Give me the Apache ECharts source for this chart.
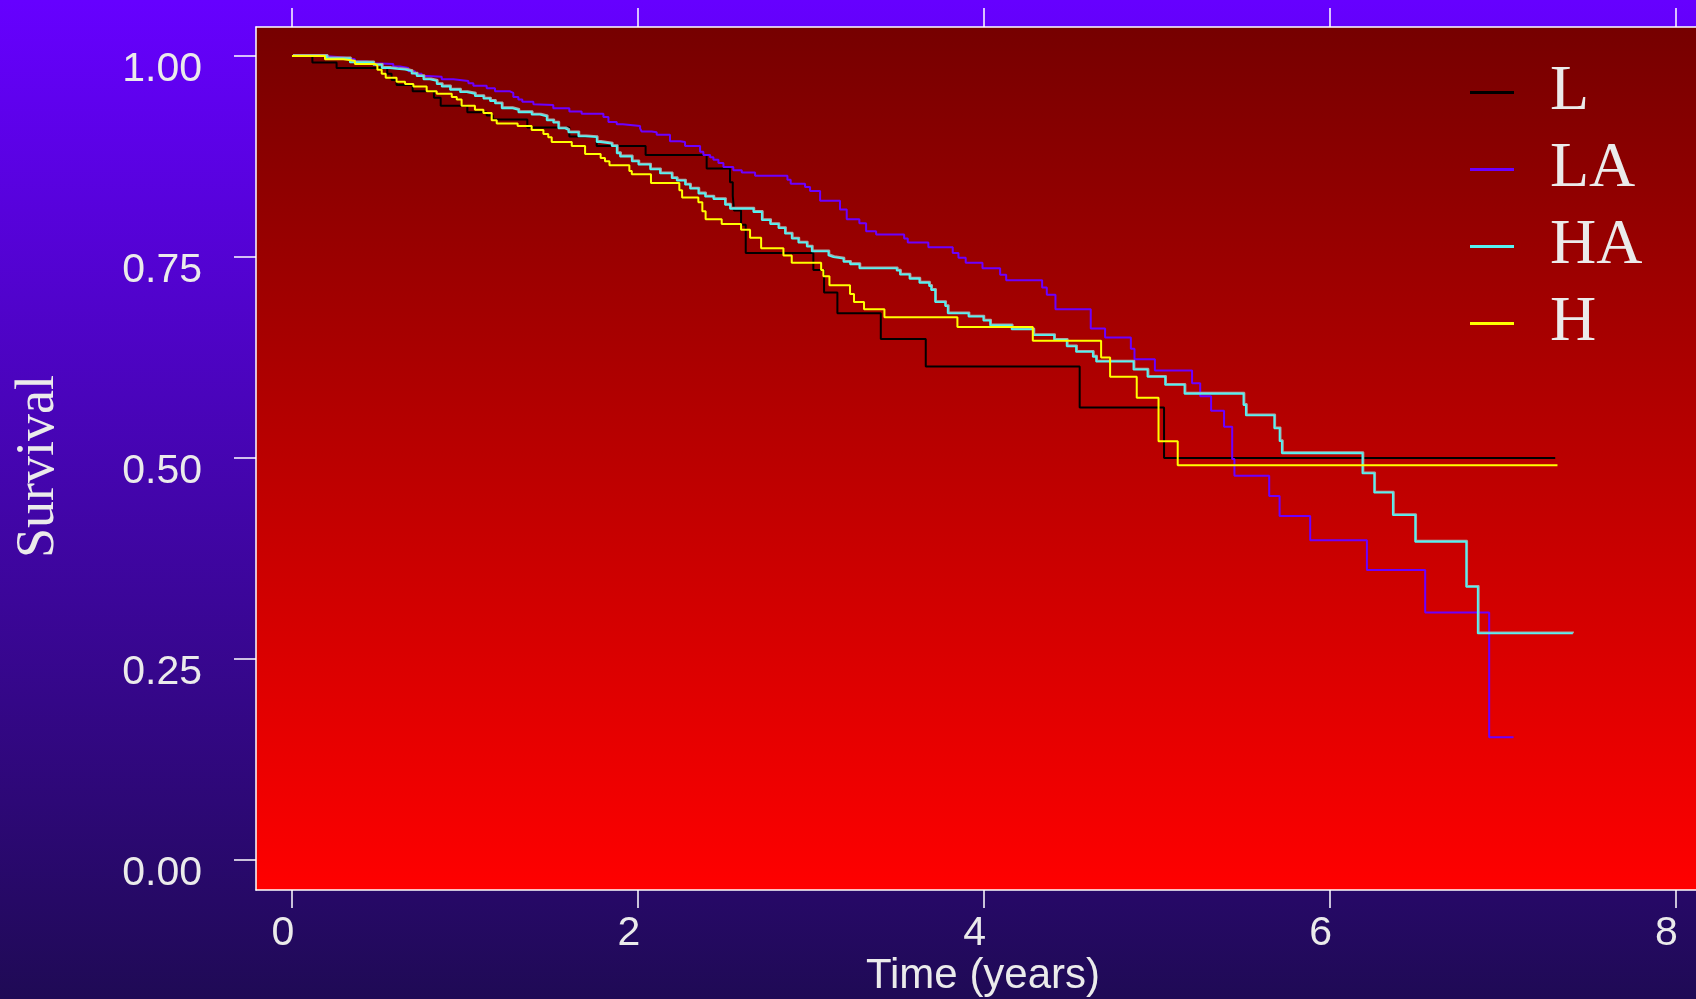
<!DOCTYPE html>
<html>
<head>
<meta charset="utf-8">
<title>Survival</title>
<script src="https://cdn.jsdelivr.net/npm/echarts@6/dist/echarts.min.js"></script>
<style>
  html, body { margin: 0; padding: 0; }
  #chart { width: 1696px; height: 999px; }
</style>
</head>
<body>
<div id="chart"></div>
<script>
// Kaplan-Meier steps (time in years, survival)
const lTime = [0, 0.118, 0.258, 0.551, 0.576, 0.605, 0.698, 0.821, 0.860, 1.014, 1.126, 1.161, 1.361, 1.604, 1.762, 2.045, 2.398, 2.533, 2.549, 2.556, 2.597, 2.624, 3.015, 3.077, 3.154, 3.405, 3.665, 4.555, 5.043, 7.305];
const lSurv = [1, 0.992, 0.985, 0.978, 0.970, 0.964, 0.956, 0.948, 0.938, 0.930, 0.926, 0.921, 0.911, 0.900, 0.888, 0.877, 0.860, 0.843, 0.826, 0.808, 0.790, 0.755, 0.734, 0.706, 0.680, 0.648, 0.614, 0.563, 0.500, 0.500];

const laTime = [0, 0.191, 0.297, 0.364, 0.432, 0.480, 0.586, 0.625, 0.673, 0.711, 0.750, 0.779, 0.866, 0.933, 1.020, 1.049, 1.126, 1.174, 1.261, 1.280, 1.309, 1.332, 1.396, 1.405, 1.511, 1.604, 1.675, 1.801, 1.830, 1.878, 1.913, 2.013, 2.022, 2.080, 2.109, 2.186, 2.244, 2.273, 2.360, 2.379, 2.418, 2.437, 2.466, 2.495, 2.552, 2.601, 2.678, 2.865, 2.884, 2.967, 2.996, 3.054, 3.169, 3.208, 3.281, 3.320, 3.378, 3.540, 3.561, 3.680, 3.821, 3.854, 3.896, 3.993, 4.095, 4.130, 4.338, 4.365, 4.415, 4.619, 4.702, 4.851, 4.872, 4.990, 5.205, 5.252, 5.315, 5.390, 5.437, 5.450, 5.651, 5.711, 5.888, 6.216, 6.553, 6.923, 7.064];
const laSurv = [1, 0.998, 0.996, 0.993, 0.991, 0.990, 0.987, 0.985, 0.981, 0.978, 0.975, 0.974, 0.971, 0.969, 0.966, 0.963, 0.960, 0.956, 0.954, 0.949, 0.946, 0.943, 0.940, 0.939, 0.935, 0.931, 0.928, 0.924, 0.918, 0.915, 0.913, 0.910, 0.906, 0.905, 0.902, 0.894, 0.893, 0.888, 0.881, 0.877, 0.874, 0.871, 0.867, 0.862, 0.858, 0.855, 0.851, 0.846, 0.841, 0.837, 0.832, 0.820, 0.809, 0.797, 0.792, 0.782, 0.778, 0.773, 0.768, 0.762, 0.755, 0.749, 0.743, 0.736, 0.728, 0.721, 0.712, 0.703, 0.685, 0.661, 0.650, 0.636, 0.623, 0.609, 0.593, 0.577, 0.559, 0.539, 0.499, 0.478, 0.453, 0.428, 0.398, 0.361, 0.308, 0.153, 0.153];

const haTime = [0, 0.201, 0.335, 0.470, 0.519, 0.567, 0.605, 0.654, 0.692, 0.721, 0.760, 0.798, 0.837, 0.866, 0.914, 0.972, 1.010, 1.058, 1.107, 1.145, 1.174, 1.213, 1.271, 1.309, 1.386, 1.434, 1.473, 1.511, 1.540, 1.579, 1.598, 1.656, 1.695, 1.762, 1.781, 1.849, 1.878, 1.897, 1.965, 2.003, 2.071, 2.128, 2.196, 2.225, 2.273, 2.302, 2.350, 2.389, 2.437, 2.504, 2.533, 2.668, 2.717, 2.765, 2.813, 2.851, 2.890, 2.928, 2.977, 3.006, 3.102, 3.108, 3.131, 3.189, 3.227, 3.281, 3.497, 3.516, 3.571, 3.628, 3.684, 3.696, 3.719, 3.777, 3.792, 3.912, 3.998, 4.037, 4.162, 4.287, 4.407, 4.480, 4.534, 4.631, 4.650, 4.866, 4.947, 5.049, 5.161, 5.502, 5.516, 5.680, 5.711, 5.724, 6.190, 6.258, 6.366, 6.495, 6.790, 6.857, 7.407];
const haSurv = [1, 0.997, 0.992, 0.989, 0.985, 0.984, 0.983, 0.981, 0.978, 0.975, 0.971, 0.969, 0.965, 0.962, 0.958, 0.955, 0.953, 0.950, 0.947, 0.944, 0.941, 0.935, 0.933, 0.930, 0.927, 0.925, 0.920, 0.917, 0.910, 0.908, 0.905, 0.900, 0.899, 0.893, 0.891, 0.888, 0.879, 0.875, 0.869, 0.865, 0.859, 0.854, 0.848, 0.845, 0.840, 0.835, 0.829, 0.825, 0.822, 0.815, 0.810, 0.806, 0.796, 0.791, 0.786, 0.779, 0.773, 0.768, 0.763, 0.757, 0.752, 0.750, 0.748, 0.744, 0.741, 0.736, 0.733, 0.728, 0.723, 0.718, 0.714, 0.709, 0.694, 0.689, 0.680, 0.676, 0.671, 0.665, 0.660, 0.653, 0.647, 0.639, 0.632, 0.626, 0.620, 0.610, 0.601, 0.591, 0.580, 0.566, 0.553, 0.537, 0.521, 0.506, 0.481, 0.457, 0.429, 0.396, 0.340, 0.282, 0.282];

const hTime = [0, 0.191, 0.297, 0.364, 0.480, 0.494, 0.519, 0.542, 0.605, 0.654, 0.702, 0.779, 0.837, 0.924, 0.953, 0.981, 1.058, 1.107, 1.155, 1.184, 1.305, 1.386, 1.454, 1.482, 1.502, 1.618, 1.695, 1.785, 1.810, 1.836, 1.951, 1.965, 2.076, 2.240, 2.256, 2.350, 2.373, 2.392, 2.485, 2.597, 2.649, 2.713, 2.842, 2.890, 3.060, 3.073, 3.108, 3.227, 3.250, 3.308, 3.426, 3.848, 4.284, 4.679, 4.731, 4.885, 5.011, 5.122, 7.318];
const hSurv = [1, 0.996, 0.994, 0.990, 0.988, 0.983, 0.978, 0.973, 0.968, 0.965, 0.962, 0.956, 0.953, 0.949, 0.946, 0.938, 0.933, 0.929, 0.920, 0.916, 0.913, 0.908, 0.903, 0.899, 0.893, 0.888, 0.878, 0.873, 0.869, 0.864, 0.857, 0.853, 0.842, 0.833, 0.824, 0.818, 0.807, 0.797, 0.791, 0.784, 0.774, 0.761, 0.752, 0.743, 0.734, 0.726, 0.715, 0.704, 0.694, 0.685, 0.675, 0.663, 0.646, 0.625, 0.601, 0.575, 0.521, 0.491, 0.491];

const groups = ['L', 'LA', 'HA', 'H'];
const xTicks = [0, 2, 4, 6, 8];
const yTicks = [0, 0.25, 0.5, 0.75, 1];

const txt = '#ebebeb';
const white = '#ffffff';

function pairs(t, s) {
  return t.map((v, i) => [v, s[i]]);
}

const chart = echarts.init(document.getElementById('chart'));

const xBase = {
  type: 'value',
  min: -0.208,
  max: 8.2,
  splitLine: { show: false },
  axisLine: { show: true, onZero: false, lineStyle: { color: white, width: 1.5 } },
  axisTick: { show: true, customValues: xTicks, lineStyle: { color: white, width: 1.5 } }
};

const option = {
  animation: false,
  backgroundColor: new echarts.graphic.LinearGradient(0, 0, 0, 1, [
    { offset: 0, color: '#6600ff' },
    { offset: 1, color: '#1f0a55' }
  ]),
  grid: {
    left: 256,
    top: 27,
    right: -14,
    bottom: 109,
    outerBoundsMode: 'none',
    show: true,
    borderWidth: 0,
    backgroundColor: new echarts.graphic.LinearGradient(0, 0, 0, 1, [
      { offset: 0, color: '#760000' },
      { offset: 1, color: '#ff0000' }
    ])
  },
  legend: {
    data: groups,
    orient: 'vertical',
    left: 1465,
    top: 49,
    icon: 'rect',
    itemWidth: 44,
    itemHeight: 3,
    itemGap: 0,
    textStyle: {
      color: txt,
      fontFamily: 'Liberation Serif',
      fontSize: 64,
      lineHeight: 77,
      padding: [0, 0, 0, 31]
    }
  },
  xAxis: [
    Object.assign({}, xBase, {
      position: 'bottom',
      name: 'Time (years)',
      nameLocation: 'middle',
      nameGap: 65,
      nameMoveOverlap: false,
      nameTextStyle: { color: txt, fontSize: 42, fontFamily: 'Liberation Sans' },
      axisTick: Object.assign({}, xBase.axisTick, { length: 18 }),
      axisLabel: {
        customValues: xTicks,
        color: txt,
        fontSize: 41,
        fontFamily: 'Liberation Sans',
        margin: 23,
        padding: [0, 18, 0, 0]
      }
    }),
    Object.assign({}, xBase, {
      position: 'top',
      axisTick: Object.assign({}, xBase.axisTick, { length: 19 }),
      axisLabel: { show: false }
    })
  ],
  yAxis: {
    type: 'value',
    min: -0.037,
    max: 1.036,
    name: 'Survival',
    nameLocation: 'middle',
    nameGap: 190,
    nameTextStyle: {
      color: txt,
      fontSize: 54,
      fontFamily: 'Liberation Serif',
      padding: [0, 16, 0, 0]
    },
    splitLine: { show: false },
    axisLine: { show: true, onZero: false, lineStyle: { color: white, width: 1.5 } },
    axisTick: { show: true, length: 22, customValues: yTicks, lineStyle: { color: white, width: 1.5 } },
    axisLabel: {
      customValues: yTicks,
      color: txt,
      fontSize: 41,
      fontFamily: 'Liberation Sans',
      margin: 54,
      verticalAlign: 'top',
      lineHeight: 27,
      formatter: v => v.toFixed(2)
    }
  },
  series: [
    {
      name: 'L', type: 'line', step: 'end', symbol: 'none',
      data: pairs(lTime, lSurv),
      itemStyle: { color: '#000000' },
      lineStyle: { color: '#000000', width: 2 }
    },
    {
      name: 'LA', type: 'line', step: 'end', symbol: 'none',
      data: pairs(laTime, laSurv),
      itemStyle: { color: '#6c00ff' },
      lineStyle: { color: '#6c00ff', width: 2 }
    },
    {
      name: 'HA', type: 'line', step: 'end', symbol: 'none',
      data: pairs(haTime, haSurv),
      itemStyle: { color: '#55f2f2' },
      lineStyle: {
        color: '#55f2f2', width: 1.8,
        shadowColor: '#a8a8a8', shadowBlur: 0, shadowOffsetX: 1, shadowOffsetY: -1
      }
    },
    {
      name: 'H', type: 'line', step: 'end', symbol: 'none',
      data: pairs(hTime, hSurv),
      itemStyle: { color: '#ffff00' },
      lineStyle: { color: '#ffff00', width: 2 }
    }
  ]
};

chart.setOption(option);
</script>
</body>
</html>
